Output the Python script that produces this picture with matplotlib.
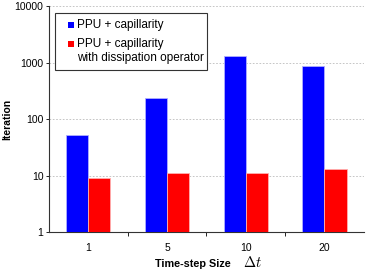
import numpy as np
import matplotlib
matplotlib.use("Agg")
import matplotlib.pyplot as plt
from matplotlib.patches import Rectangle
from matplotlib.ticker import FixedLocator, NullLocator

# data
dt_labels = ["1", "5", "10", "20"]
ppu_cap = [52, 240, 1320, 860]
ppu_cap_diss = [9, 11, 11, 13]

plt.rcParams['font.family'] = ['Liberation Sans', 'DejaVu Sans']
plt.rcParams['mathtext.fontset'] = 'cm'

W, H = 369, 273
fig = plt.figure(figsize=(W/100, H/100), dpi=100)
ax = fig.add_axes([0.133, 0.150, 0.853, 0.828])

x = np.arange(len(dt_labels))
w = 0.28
ax.bar(x - w/2, ppu_cap, w, color='#0000ff', edgecolor='#b0b0ff', linewidth=0.6, zorder=3)
ax.bar(x + w/2, ppu_cap_diss, w, color='#ff0000', edgecolor='#ffb0b0', linewidth=0.6, zorder=3)

ax.set_yscale('log')
ax.set_ylim(1, 10000)
ax.set_xlim(-0.5, 3.5)
ax.yaxis.set_major_locator(FixedLocator([1, 10, 100, 1000, 10000]))
ax.yaxis.set_minor_locator(NullLocator())
ax.set_yticklabels(['1', '10', '100', '1000', '10000'])
ax.grid(axis='y', linestyle=(0, (2, 2)), color='#bbbbbb', linewidth=0.6, zorder=0)

ax.set_xticks(x)
ax.set_xticklabels(dt_labels)
ax.xaxis.set_minor_locator(FixedLocator([0.5, 1.5, 2.5]))
ax.tick_params(axis='x', which='major', length=0, pad=8, labelsize=7.5)
ax.tick_params(axis='x', which='minor', length=3, width=0.6, direction='out')
ax.tick_params(axis='y', length=2.5, width=0.6, labelsize=7.5, pad=1.5)

for s in ['top', 'right']:
    ax.spines[s].set_visible(False)
for s in ['left', 'bottom']:
    ax.spines[s].set_linewidth(0.8)
    ax.spines[s].set_color('#333333')

ax.set_ylabel('Iteration', fontweight='bold', fontsize=7.5, labelpad=2)
fig.text(0.522, 0.022, 'Time-step Size', fontweight='bold', fontsize=7.8,
         ha='center', va='baseline')
fig.text(0.659, 0.022, r'$\Delta t$', fontsize=10.5, ha='left', va='baseline')

# legend box drawn by hand (pixel positions from the top-left corner)
def fx(px): return px / W
def fy(py): return 1 - py / H

fig.add_artist(Rectangle((fx(55), fy(70)), fx(207) - fx(55), fy(13) - fy(70),
                         transform=fig.transFigure, facecolor='white',
                         edgecolor='#333333', linewidth=0.8, zorder=5))
sq = 6
fig.add_artist(Rectangle((fx(68), fy(25.3 + sq/2)), sq/W, sq/H, transform=fig.transFigure,
                         facecolor='#0000ff', edgecolor='none', zorder=6))
fig.add_artist(Rectangle((fx(68), fy(44 + sq/2)), sq/W, sq/H, transform=fig.transFigure,
                         facecolor='#ff0000', edgecolor='none', zorder=6))
fig.text(fx(77), fy(25.3), 'PPU + capillarity', fontsize=8.5, va='center', zorder=7)
fig.text(fx(77), fy(44), 'PPU + capillarity', fontsize=8.5, va='center', zorder=7)
fig.text(fx(77), fy(58), 'with dissipation operator', fontsize=8.5, va='center', zorder=7)

fig.savefig('out.png', dpi=100)
